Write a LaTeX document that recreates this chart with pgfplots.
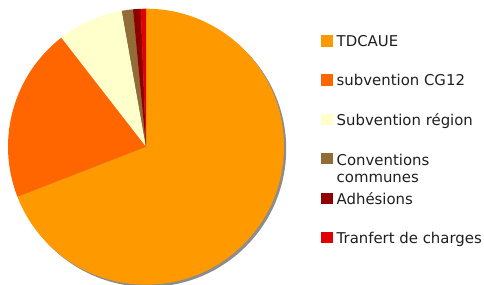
\documentclass[border=0pt]{standalone}
\usepackage{fontspec}
\setmainfont{DejaVu Sans}
\usepackage{pgfplots}
\usepackage{pgfplotstable}
\pgfplotsset{compat=1.18}
\definecolor{cTD}{HTML}{FF9900}
\definecolor{cCG}{HTML}{FF6600}
\definecolor{cRE}{HTML}{FFFFCC}
\definecolor{cCO}{HTML}{916C36}
\definecolor{cAD}{HTML}{900000}
\definecolor{cTR}{HTML}{E00000}
\definecolor{cSH}{HTML}{8C8C8C}
\pgfplotstableread[col sep=comma]{
label,value,color
TDCAUE,69.1,cTD
subvention CG12,20.4,cCG
Subvention région,7.7,cRE
Conventions communes,1.3,cCO
Adhésions,0.9,cAD
Tranfert de charges,0.6,cTR
}\piedata
\begin{document}
\begin{tikzpicture}
\useasboundingbox (0,0) rectangle (484bp,285bp);
\clip (0,0) rectangle (484bp,285bp);
\def\cum{0}%
\pgfplotsforeachungrouped \i in {0,...,5}{%
  \pgfplotstablegetelem{\i}{value}\of\piedata
  \pgfmathsetmacro\s{90-3.6*\cum}%
  \pgfmathsetmacro\cum{\cum+\pgfplotsretval}%
  \pgfmathsetmacro\e{90-3.6*\cum}%
  \expandafter\xdef\csname sA\i\endcsname{\s}%
  \expandafter\xdef\csname eA\i\endcsname{\e}%
  \pgfplotstablegetelem{\i}{color}\of\piedata
  \expandafter\xdef\csname cA\i\endcsname{\pgfplotsretval}%
}%
\begin{axis}[at={(146bp,138.3bp)}, anchor=origin,
  x=138bp, y=138bp, xmin=-1, xmax=1, ymin=-1, ymax=1, hide axis,
  clip=false]
  \fill[cSH] (axis cs:0.016,-0.016) circle[radius=138bp];
  \pgfplotsinvokeforeach{0,...,5}{%
    \fill[color=\csname cA#1\endcsname] (axis cs:0,0) -- ++(\csname sA#1\endcsname:138bp)
      arc[start angle=\csname sA#1\endcsname, end angle=\csname eA#1\endcsname, radius=138bp] -- cycle;
  }
\end{axis}
\begin{scope}[every node/.style={anchor=base west, inner sep=0pt, font=\fontsize{14.9bp}{17bp}\selectfont, text=black!88}]
  \fill[cTD] (321bp,238.3bp) rectangle ++(12bp,11.7bp);
  \node at (336.5bp,238.3bp) {TDCAUE};
  \fill[cCG] (321bp,199bp) rectangle ++(12bp,11.7bp);
  \node at (336.5bp,199bp) {subvention CG12};
  \fill[cRE] (321bp,159.7bp) rectangle ++(12bp,11.7bp);
  \node at (336.5bp,159.7bp) {Subvention région};
  \fill[cCO] (321bp,120.7bp) rectangle ++(12bp,11.7bp);
  \node at (336.5bp,119.3bp) {Conventions};
  \node at (336.5bp,102.3bp) {communes};
  \fill[cAD] (321bp,80.7bp) rectangle ++(12bp,11.7bp);
  \node at (336.5bp,80.7bp) {Adhésions};
  \fill[cTR] (321bp,41.7bp) rectangle ++(12bp,11.7bp);
  \node at (336.5bp,41.7bp) {Tranfert de charges};
\end{scope}
\end{tikzpicture}
\end{document}
